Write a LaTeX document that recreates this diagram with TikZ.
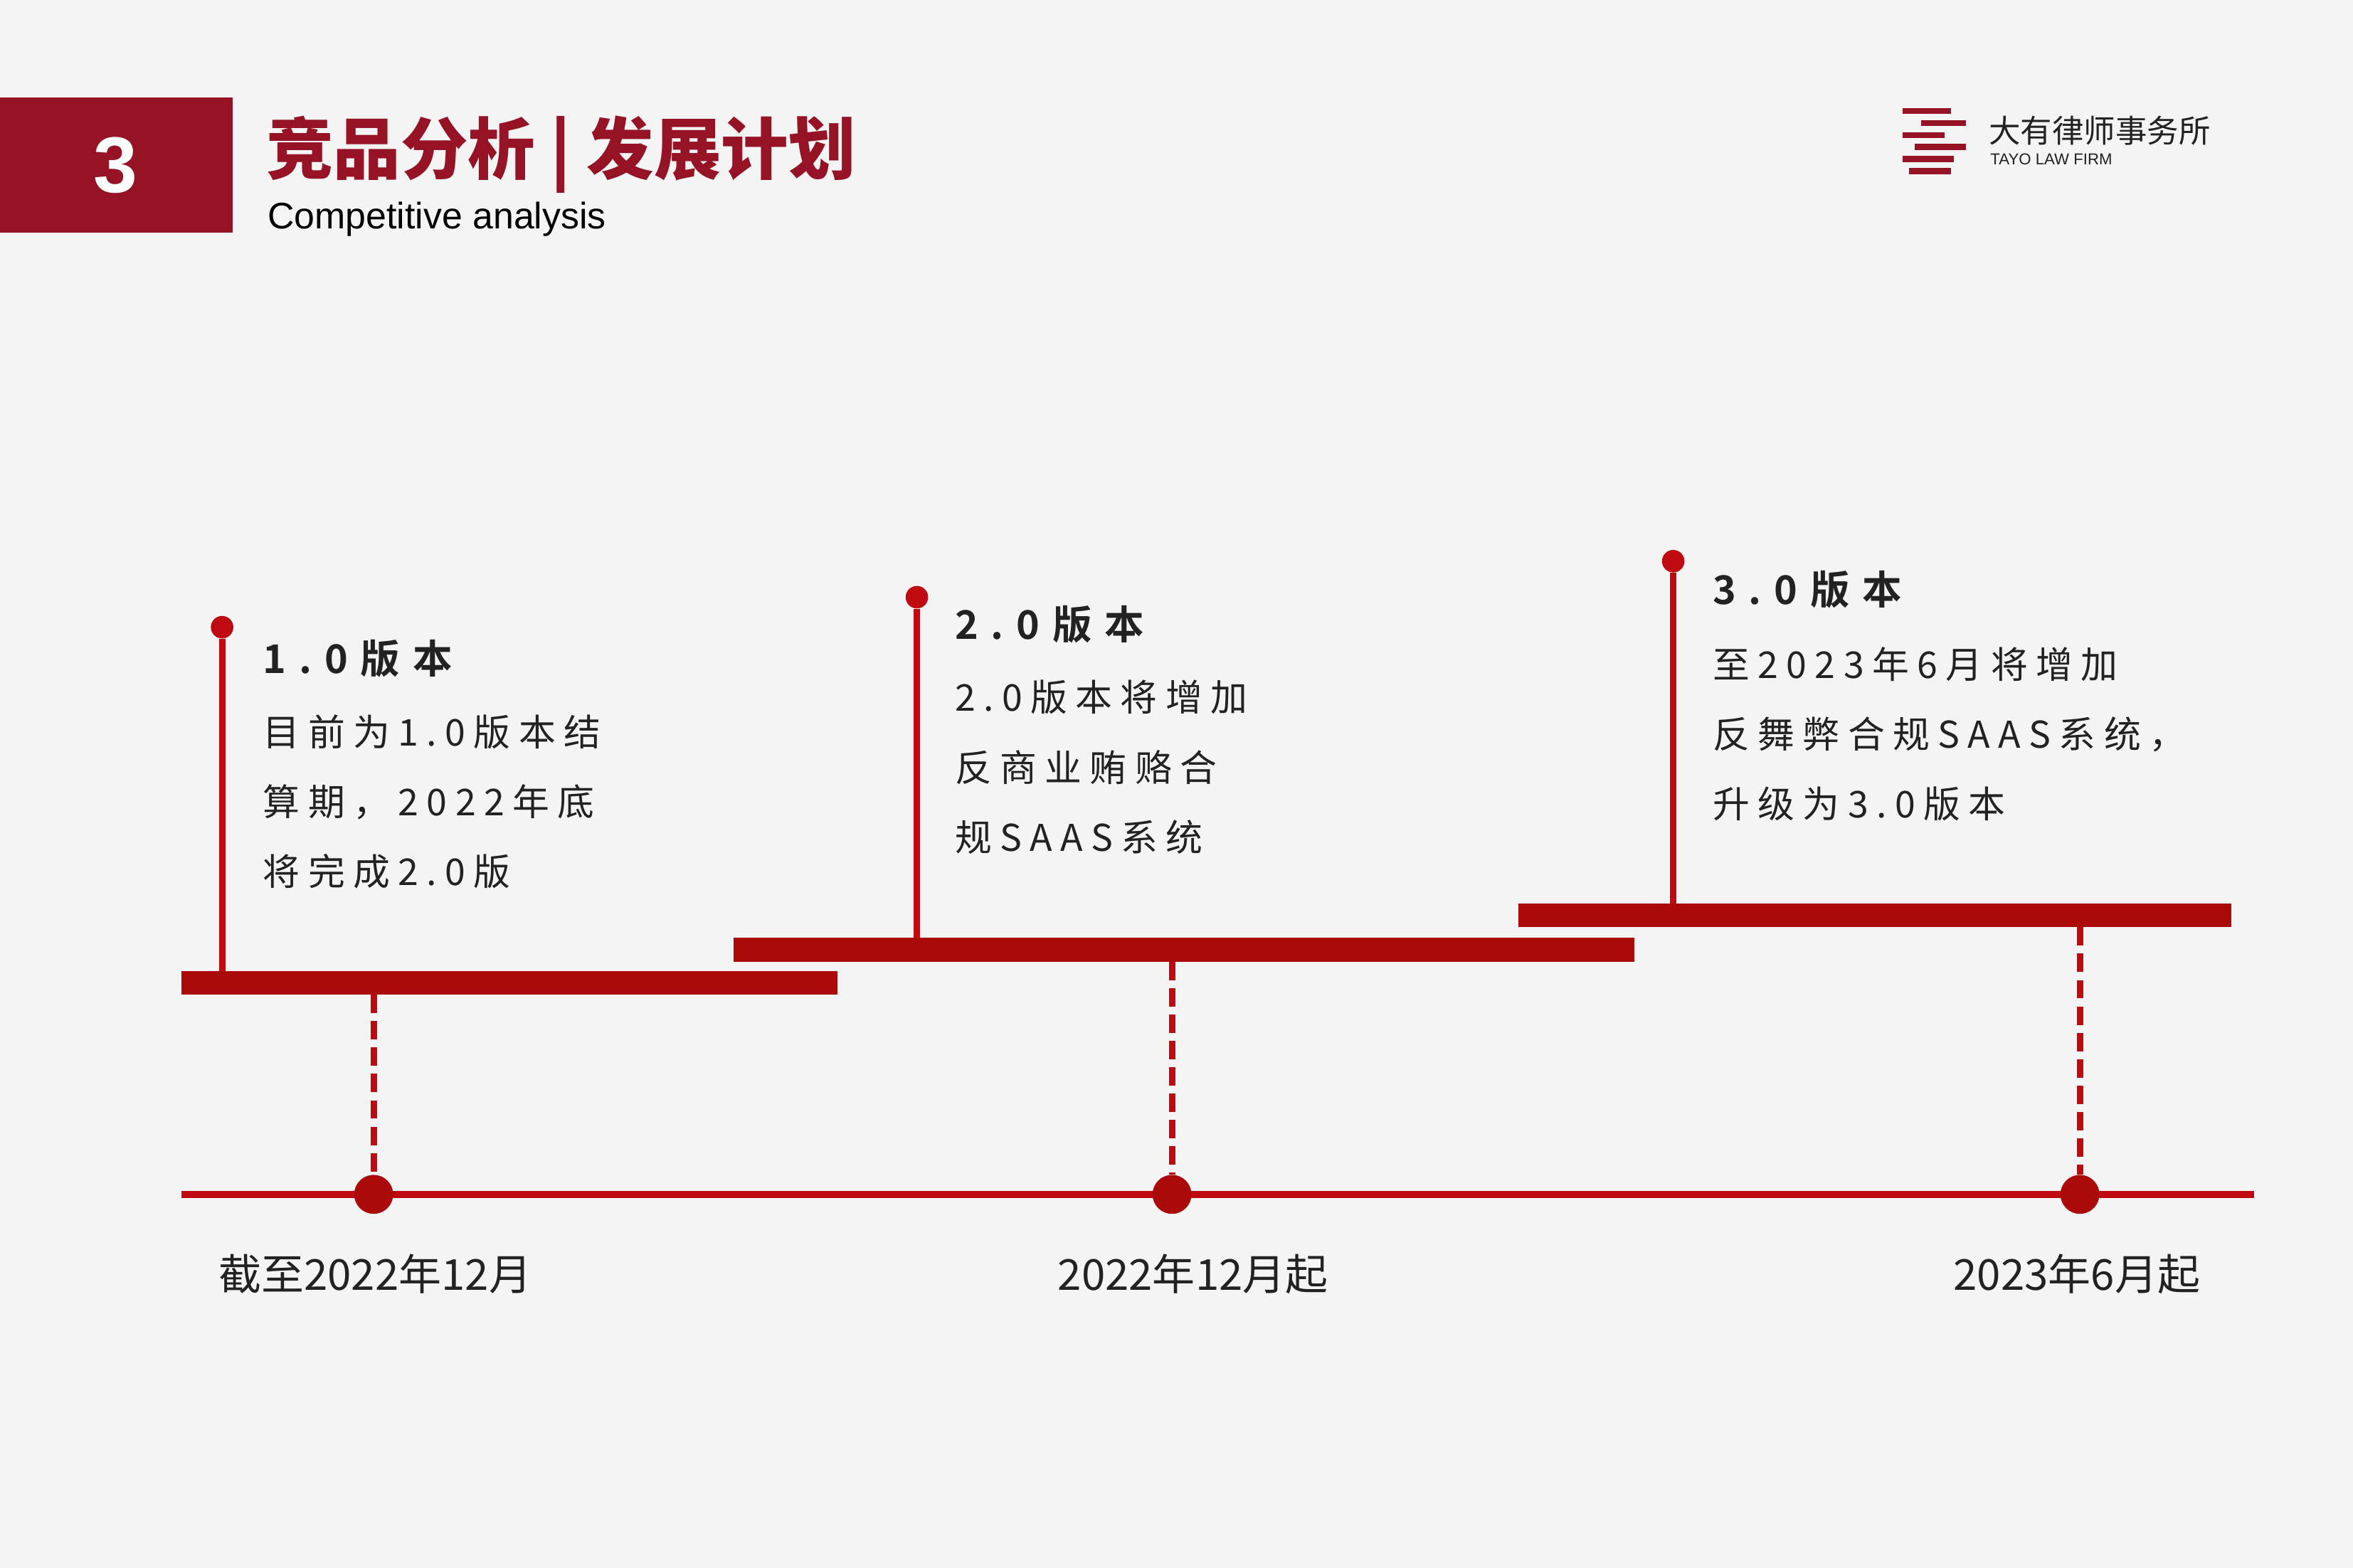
\documentclass[tikz,border=0pt]{standalone}
\usepackage{fontspec}
\setmainfont{Liberation Sans}
\newfontfamily\cjk[LetterSpace=22]{Noto Sans CJK SC}
\newfontfamily\cjkhead[LetterSpace=32]{Noto Sans CJK SC Bold}
\newfontfamily\cjkplain{Noto Sans CJK SC}
\definecolor{brand}{HTML}{951325}
\definecolor{barred}{HTML}{AA0A0A}
\definecolor{linered}{HTML}{C00A12}
\definecolor{bg}{HTML}{F4F4F4}
\definecolor{ink}{HTML}{222222}
\tikzset{
  stage/.style={fill=barred, draw=none},
  stem/.style={linered, line width=2.4pt},
  stemtop/.style={circle, fill=linered, inner sep=0pt, minimum size=0.3cm},
  guide/.style={linered, line width=2.4pt, dash pattern=on 7pt off 3pt},
  datedot/.style={circle, fill=barred, inner sep=0pt, minimum size=0.52cm},
  datelabel/.style={anchor=center, font=\cjkplain\fontsize{16.2}{18}\selectfont, text=ink},
  headtext/.style={anchor=west, inner sep=0pt, font=\cjkhead\fontsize{15}{18}\selectfont, text=ink},
  bodytext/.style={anchor=north west, inner sep=0pt, align=left, text=ink,
    font=\cjk\fontsize{14}{26.5}\selectfont}
}
\begin{document}
\begin{tikzpicture}[x=0.02cm, y=-0.02cm]
	\fill[bg] (0,0) rectangle (1568,1045);
	\useasboundingbox (0,0) rectangle (1568,1045);
	% header
	\fill[brand] (0,65) rectangle (155,155);
	\node (num) [text=white, font=\bfseries\fontsize{30}{30}\selectfont] at (77,110) {3};
	\node (title) [anchor=west, inner sep=0pt, text=brand, font=\cjkplain\bfseries\fontsize{25.5}{28}\selectfont] at (177,103) {竞品分析 | 发展计划};
	\node (subtitle) [anchor=west, inner sep=0pt, text=black, font=\fontsize{14}{16}\selectfont] at (178,146) {Competitive analysis};
	% logo
	\foreach \y/\a/\b in {72/1268/1300, 80/1280/1310, 88/1268/1296, 96/1276/1310, 104/1268/1302, 112/1272/1300}
		\fill[brand] (\a,\y) rectangle (\b,\y+4);
	\node (firm) [anchor=west, inner sep=0pt, text=ink, font=\cjkplain\fontsize{12}{14}\selectfont] at (1325,87) {大有律师事务所};
	\node (firmen) [anchor=west, inner sep=0pt, text=ink, font=\fontsize{6}{7}\selectfont] at (1326,106) {TAYO LAW FIRM};
	% stages
	\fill[stage] (121,647) rectangle (558,663);
	\fill[stage] (489,625) rectangle (1089,641);
	\fill[stage] (1012,602) rectangle (1487,618);
	% axis
	\draw[linered, line width=2.6pt] (121,796) -- (1502,796);
	\foreach \x/\top/\bar/\n in {148/418/647/a, 611/398/625/b, 1115/374/602/c}{
		\node (top\n) [stemtop] at (\x,\top) {};
		\coordinate (foot\n) at (\x,\bar);
		\draw[stem] (top\n) -- (foot\n);
	}
	\foreach \x/\bar/\n in {249/663/a, 781/641/b, 1386/618/c}{
		\coordinate (drop\n) at (\x,\bar);
		\node (dot\n) [datedot] at (\x,796) {};
		\draw[guide] (drop\n) -- (dot\n);
	}
	% dates
	\node (datea) [datelabel] at (250,849) {截至2022年12月};
	\node (dateb) [datelabel] at (795,849) {2022年12月起};
	\node (datec) [datelabel] at (1384,849) {2023年6月起};
	% descriptions
	\node (heada) [headtext] at (175,439) {1.0版本};
	\node (texta) [bodytext] at (175,476) {目前为1.0版本结\\算期，2022年底\\将完成2.0版};
	\node (headb) [headtext] at (636,416) {2.0版本};
	\node (textb) [bodytext] at (636,453) {2.0版本将增加\\反商业贿赂合\\规SAAS系统};
	\node (headc) [headtext] at (1141,393) {3.0版本};
	\node (textc) [bodytext] at (1141,431) {至2023年6月将增加\\反舞弊合规SAAS系统，\\升级为3.0版本};
\end{tikzpicture}
\end{document}
